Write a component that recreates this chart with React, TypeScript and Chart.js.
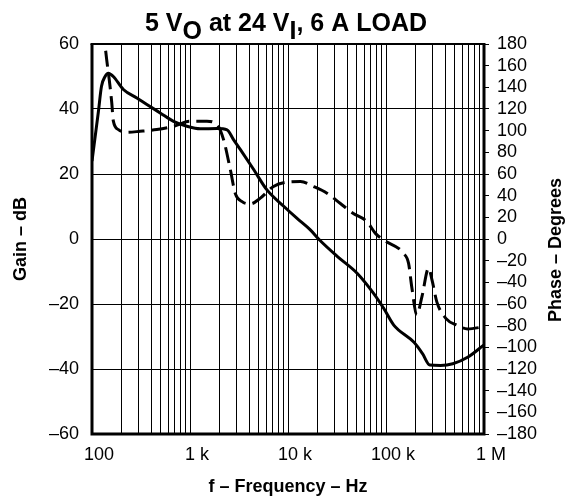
import React, { useEffect, useRef } from "react";
import { Chart, registerables } from "chart.js";

Chart.register(...registerables);

// ---- text ----
const titleParts = [
  { text: "5 V", sub: false },
  { text: "O", sub: true },
  { text: " at 24 V", sub: false },
  { text: "I", sub: true },
  { text: ", 6 A LOAD", sub: false },
];
const xTitle = "f – Frequency – Hz";
const yLeftTitle = "Gain – dB";
const yRightTitle = "Phase – Degrees";

// ---- ticks ----
const freqTicks = [100, 1000, 10000, 100000, 1000000];
const freqTickLabels = ["100", "1 k", "10 k", "100 k", "1 M"];
const freqGridMultipliers = [1, 2, 3, 4, 5, 6, 7, 8, 9];
const freqDecades = [100, 1000, 10000, 100000];

const gainTicks = [-60, -40, -20, 0, 20, 40, 60];
const gainTickLabels = ["–60", "–40", "–20", "0", "20", "40", "60"];

const phaseTicks = [
  -180, -160, -140, -120, -100, -80, -60, -40, -20, 0, 20, 40, 60, 80, 100, 120, 140, 160, 180,
];
const phaseTickLabels = [
  "–180", "–160", "–140", "–120", "–100", "–80", "–60", "–40", "–20", "0",
  "20", "40", "60", "80", "100", "120", "140", "160", "180",
];

// ---- data ----
const gainFreq = [
  100, 116, 125, 136, 147, 165, 209, 287, 363, 496, 679, 929, 1270, 1890, 2390, 2780,
  3270, 4480, 6100, 9100, 12300, 16900, 21000, 32000, 51000, 75000, 95000, 120000,
  193000, 236000, 280000, 360000, 480000, 680000, 1000000,
];
const gainDb = [
  24, 39, 47, 50, 51, 50, 46, 43.4, 41.4, 38.8, 36.2, 34.7, 33.9, 34, 33.6, 30.6,
  27.5, 21.3, 15.1, 10, 6.4, 2.8, -0.3, -5.4, -10.6, -16.8, -21.4, -26.5,
  -31.8, -35.3, -38.8, -38.9, -38.4, -36.4, -32.6,
];

const phaseFreq = [
  130, 141, 150, 159, 165, 186, 226, 309, 458, 679, 1000, 1490, 1890, 2200, 2580, 2900,
  3400, 4140, 5220, 7100, 9800, 13400, 18300, 25000, 34000, 46000, 64000, 78000, 95000,
  151000, 170000, 183000, 206000, 233000, 272000, 295000, 330000, 410000, 530000, 680000,
  1000000,
];
const phaseDeg = [
  195, 166, 147, 126, 109, 101, 98.5, 99.4, 101, 104, 108.6, 108.6, 105.6, 91.7, 64, 42,
  34.5, 32.4, 37.7, 48.5, 52.5, 53, 48.4, 42.3, 33, 23.8, 16, 5.2, -1,
  -13.3, -22.5, -44, -70, -53, -27, -38, -58, -73.5, -79.6, -83, -81,
];

const FONT = "'Liberation Sans', Arial, Helvetica, sans-serif";

function labelFor(values: number[], labels: string[], v: number): string {
  const i = values.findIndex((t) => Math.abs(t - v) < 1e-6 * Math.max(1, Math.abs(t)));
  return i >= 0 ? labels[i] : "";
}

const decorPlugin = {
  id: "decor",
  afterDraw(chart: any) {
    const { ctx, chartArea: a } = chart;
    ctx.save();
    // frame
    ctx.strokeStyle = "#000";
    ctx.lineWidth = 3;
    ctx.beginPath();
    ctx.moveTo(a.left, a.top);
    ctx.lineTo(a.left, a.bottom);
    ctx.lineTo(a.right, a.bottom);
    ctx.lineTo(a.right, a.top);
    ctx.stroke();
    ctx.lineWidth = 2;
    ctx.beginPath();
    ctx.moveTo(a.left - 1.5, a.top);
    ctx.lineTo(a.right + 1.5, a.top);
    ctx.stroke();

    // main title with subscripts
    ctx.fillStyle = "#000";
    ctx.font = `bold 25px ${FONT}`;
    ctx.textAlign = "left";
    ctx.textBaseline = "alphabetic";
    const widths = titleParts.map((p) => ctx.measureText(p.text).width);
    const total = widths.reduce((s, w) => s + w, 0);
    let x = (a.left + a.right) / 2 - 2 - total / 2;
    titleParts.forEach((p, i) => {
      ctx.fillText(p.text, x, p.sub ? 39 : 31);
      x += widths[i];
    });

    // right axis title (reads bottom to top)
    ctx.font = `bold 18px ${FONT}`;
    ctx.translate(556, 250);
    ctx.rotate(-Math.PI / 2);
    ctx.textAlign = "center";
    ctx.textBaseline = "middle";
    ctx.fillText(yRightTitle, 0, 0);
    ctx.restore();
  },
};

export default function App() {
  const canvasRef = useRef<HTMLCanvasElement | null>(null);

  useEffect(() => {
    const canvas = canvasRef.current;
    if (!canvas) return;

    const gridFreqs: number[] = [];
    freqDecades.forEach((d) => freqGridMultipliers.forEach((m) => gridFreqs.push(d * m)));
    gridFreqs.push(1000000);

    const chart = new Chart(canvas, {
      type: "line",
      data: {
        datasets: [
          {
            label: "Gain",
            data: gainFreq.map((f, i) => ({ x: f, y: gainDb[i] })),
            borderColor: "#000",
            borderWidth: 3,
            pointRadius: 0,
            fill: false,
            cubicInterpolationMode: "monotone",
            yAxisID: "y",
          },
          {
            label: "Phase",
            data: phaseFreq.map((f, i) => ({ x: f, y: phaseDeg[i] })),
            borderColor: "#000",
            borderWidth: 3,
            borderDash: [16, 7],
            pointRadius: 0,
            fill: false,
            cubicInterpolationMode: "monotone",
            yAxisID: "y2",
          },
        ],
      },
      options: {
        responsive: false,
        animation: false,
        events: [],
        layout: { padding: { top: 44, left: 0, right: 0, bottom: 0 } },
        plugins: {
          legend: { display: false },
          title: { display: false },
          tooltip: { enabled: false },
        },
        scales: {
          x: {
            type: "logarithmic",
            position: "bottom",
            min: 100,
            max: 1000000,
            afterBuildTicks: (scale: any) => {
              scale.ticks = gridFreqs.map((v) => ({ value: v }));
            },
            afterFit: (scale: any) => {
              scale.height = 67;
            },
            ticks: {
              autoSkip: false,
              maxRotation: 0,
              minRotation: 0,
              padding: 10,
              labelOffset: 7,
              color: "#000",
              font: { family: FONT, size: 18 },
              callback: (v: any) => labelFor(freqTicks, freqTickLabels, Number(v)),
            },
            grid: { color: "#000", lineWidth: 1, drawTicks: false },
            border: { display: false },
            title: {
              display: true,
              text: xTitle,
              color: "#000",
              font: { family: FONT, size: 18, weight: "bold" },
              padding: { top: 0, bottom: 3 },
            },
          },
          y: {
            type: "linear",
            position: "left",
            min: -60,
            max: 60,
            afterBuildTicks: (scale: any) => {
              scale.ticks = gainTicks.map((v) => ({ value: v }));
            },
            afterFit: (scale: any) => {
              scale.width = 92;
            },
            ticks: {
              autoSkip: false,
              padding: 13,
              color: "#000",
              font: { family: FONT, size: 18 },
              callback: (v: any) => labelFor(gainTicks, gainTickLabels, Number(v)),
            },
            grid: { color: "#000", lineWidth: 1, drawTicks: false },
            border: { display: false },
            title: {
              display: true,
              text: yLeftTitle,
              color: "#000",
              font: { family: FONT, size: 18, weight: "bold" },
              padding: { top: 10, bottom: 0 },
            },
          },
          y2: {
            type: "linear",
            position: "right",
            min: -180,
            max: 180,
            afterBuildTicks: (scale: any) => {
              scale.ticks = phaseTicks.map((v) => ({ value: v }));
            },
            afterFit: (scale: any) => {
              scale.width = 92;
            },
            ticks: {
              autoSkip: false,
              padding: 8,
              color: "#000",
              font: { family: FONT, size: 18 },
              callback: (v: any) => labelFor(phaseTicks, phaseTickLabels, Number(v)),
            },
            grid: {
              drawOnChartArea: false,
              color: "#000",
              lineWidth: 1,
              drawTicks: true,
              tickLength: 5,
            },
            border: { display: false },
          },
        },
      },
      plugins: [decorPlugin],
    } as any);

    return () => chart.destroy();
  }, []);

  return (
    <div style={{ position: "fixed", left: 0, top: 0, width: 576, height: 501, background: "#fff" }}>
      <canvas ref={canvasRef} width={576} height={501} style={{ display: "block" }} />
    </div>
  );
}
